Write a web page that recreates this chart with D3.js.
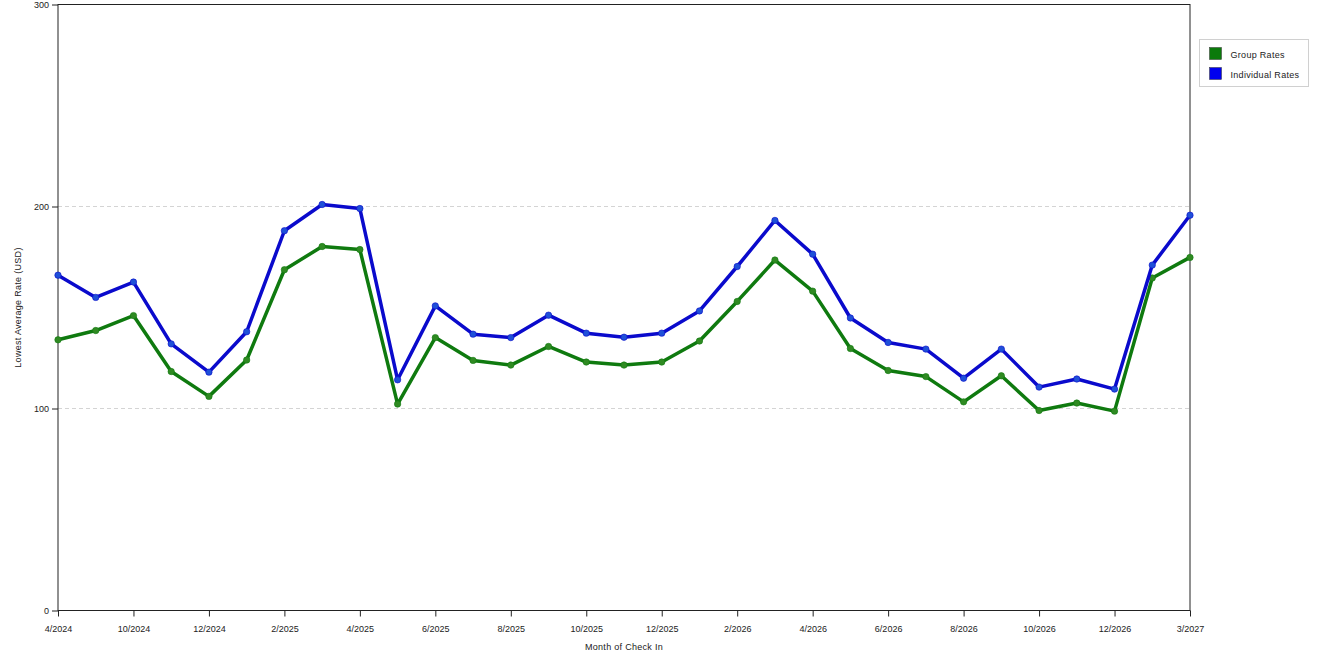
<!DOCTYPE html>
<html>
<head>
<meta charset="utf-8">
<script src="https://cdn.jsdelivr.net/npm/d3@7"></script>
<style>
  body { margin: 0; background: #fff; }
  text { font-family: "Liberation Sans", Arial, sans-serif; fill: #222; }
</style>
</head>
<body>
<div id="chart"></div>
<script>
// month of check in (every other one is labelled)
var months = ['4/2024', '9/2024', '10/2024', '11/2024', '12/2024', '1/2025', '2/2025', '3/2025',
  '4/2025', '5/2025', '6/2025', '7/2025', '8/2025', '9/2025', '10/2025', '11/2025', '12/2025',
  '1/2026', '2/2026', '3/2026', '4/2026', '5/2026', '6/2026', '7/2026', '8/2026', '9/2026',
  '10/2026', '11/2026', '12/2026', '1/2027', '3/2027'];
var groupRates = [134, 138.6, 146, 118.3, 106, 124, 168.7, 180.2, 178.7, 102.2, 135.1, 123.8,
  121.5, 130.7, 123, 121.5, 123, 133.4, 153, 173.5, 158.1, 129.7, 118.8, 115.8, 103.3, 116.2,
  99, 102.7, 98.7, 164.6, 174.8];
var individualRates = [166, 155, 162.6, 132, 118, 138, 188, 201, 199, 114.2, 150.8, 136.8,
  135.1, 146.2, 137.3, 135.3, 137.3, 148.3, 170.3, 193.1, 176.4, 144.8, 132.7, 129.4, 115,
  129.4, 110.6, 114.6, 109.6, 171, 195.7];
var yTicks = [0, 100, 200, 300];

var series = [
  {name: 'Group Rates', values: groupRates, color: '#0f7a0f', dot: '#2f8a22', swatch: '#0b7a0b'},
  {name: 'Individual Rates', values: individualRates, color: '#0a0acc', dot: '#1f50d8', swatch: '#0000ee'}
];

var w = 1320, h = 660;
var plotLeft = 58, plotRight = 1190, plotTop = 4.5, plotBottom = 610.5;

var svg = d3.select('#chart').append('svg')
  .attr('width', w)
  .attr('height', h);

var x = d3.scalePoint().domain(months).range([plotLeft, plotRight]);
var y = d3.scaleLinear().domain([0, 300]).range([plotBottom, plotTop]);

// grid lines
svg.append('g').selectAll('line')
  .data(yTicks.filter(function(d) { return d > 0 && d < 300; }))
  .enter().append('line')
  .attr('x1', plotLeft).attr('x2', plotRight)
  .attr('y1', function(d) { return y(d); })
  .attr('y2', function(d) { return y(d); })
  .attr('stroke', '#d4d4d4')
  .attr('stroke-dasharray', '4,3');

// frame
svg.append('rect')
  .attr('x', plotLeft).attr('y', plotTop)
  .attr('width', plotRight - plotLeft).attr('height', plotBottom - plotTop)
  .attr('fill', 'none')
  .attr('stroke', '#222');

var xAxis = svg.append('g')
  .attr('transform', 'translate(0,' + plotBottom + ')')
  .call(d3.axisBottom(x)
    .tickValues(months.filter(function(d, i) { return i % 2 == 0; }))
    .tickSize(6).tickPadding(9));
xAxis.select('.domain').remove();
xAxis.selectAll('line').attr('stroke', '#222');
xAxis.selectAll('text').style('font-size', '9px').attr('fill', '#222');

var yAxis = svg.append('g')
  .attr('transform', 'translate(' + plotLeft + ',0)')
  .call(d3.axisLeft(y).tickValues(yTicks).tickSize(6).tickPadding(3));
yAxis.select('.domain').remove();
yAxis.selectAll('line').attr('stroke', '#222');
yAxis.selectAll('text').style('font-size', '9px').attr('fill', '#222');

// axis titles
svg.append('text')
  .attr('x', (plotLeft + plotRight) / 2).attr('y', 650)
  .attr('text-anchor', 'middle')
  .style('font-size', '9px')
  .style('letter-spacing', '0.3px')
  .text('Month of Check In');

svg.append('text')
  .attr('transform', 'translate(21,' + (plotTop + plotBottom) / 2 + ') rotate(-90)')
  .attr('text-anchor', 'middle')
  .style('font-size', '9px')
  .style('letter-spacing', '0.3px')
  .text('Lowest Average Rate (USD)');

var line = d3.line()
  .x(function(d, i) { return x(months[i]); })
  .y(function(d) { return y(d); });

var g = svg.selectAll('.series')
  .data(series)
  .enter().append('g');

g.append('path')
  .attr('d', function(d) { return line(d.values); })
  .attr('fill', 'none')
  .attr('stroke', function(d) { return d.color; })
  .attr('stroke-width', 3.5)
  .attr('stroke-linejoin', 'round');

g.each(function(s) {
  d3.select(this).selectAll('circle')
    .data(s.values)
    .enter().append('circle')
    .attr('cx', function(d, i) { return x(months[i]); })
    .attr('cy', function(d) { return y(d); })
    .attr('r', 3.2)
    .attr('fill', s.dot)
    .attr('stroke', s.color)
    .attr('stroke-opacity', 0.6)
    .attr('stroke-width', 1);
});

// legend
var legend = svg.append('g').attr('transform', 'translate(1199.5,39.5)');
legend.append('rect')
  .attr('width', 109).attr('height', 47)
  .attr('fill', '#fff')
  .attr('stroke', '#d0d0d0');
var item = legend.selectAll('.item')
  .data(series)
  .enter().append('g')
  .attr('transform', function(d, i) { return 'translate(10,' + (8 + i * 20) + ')'; });
item.append('rect')
  .attr('width', 12).attr('height', 12)
  .attr('fill', function(d) { return d.swatch; })
  .attr('stroke', '#333')
  .attr('stroke-width', 0.5);
item.append('text')
  .attr('x', 21).attr('y', 10)
  .style('font-size', '9px')
  .style('letter-spacing', '0.3px')
  .text(function(d) { return d.name; });
</script>
</body>
</html>
